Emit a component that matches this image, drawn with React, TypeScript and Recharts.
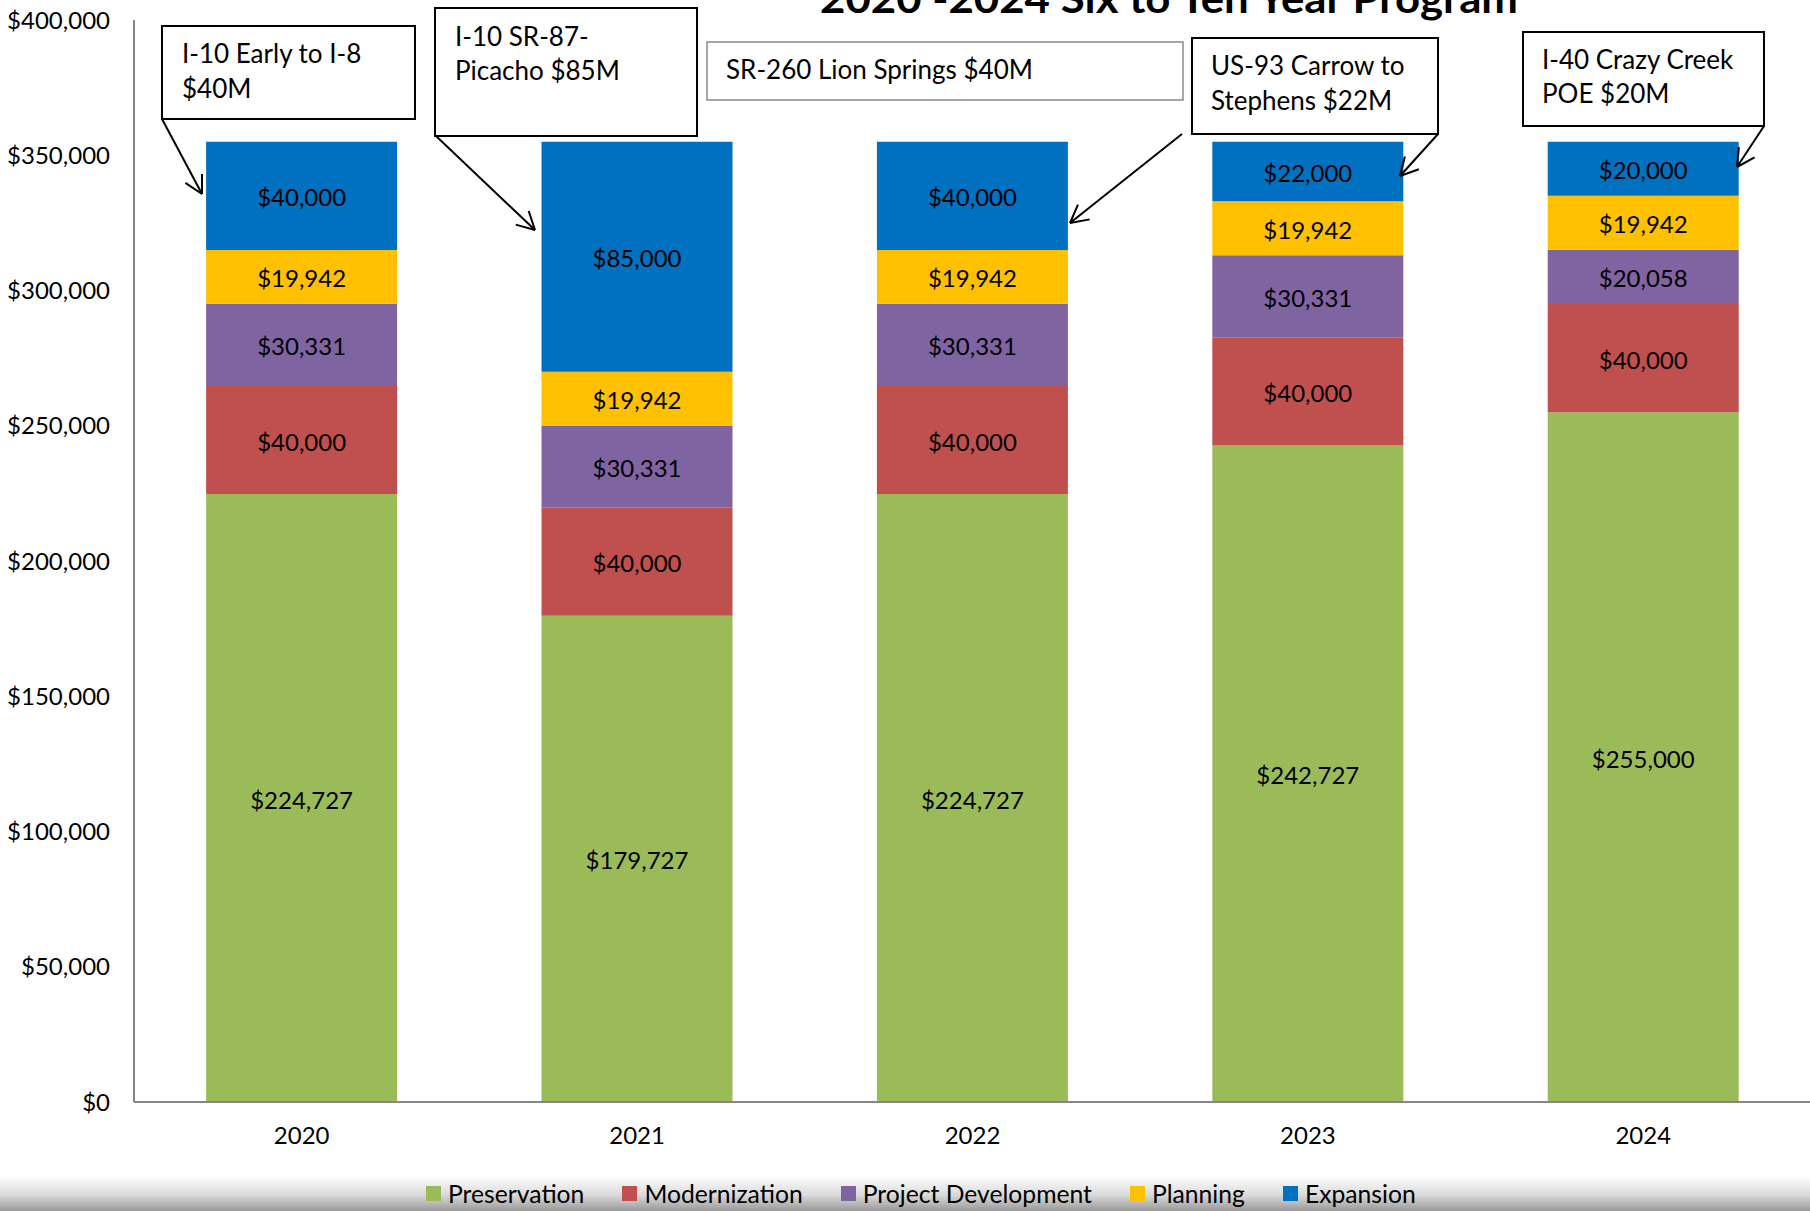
import React from 'react';
import { BarChart, Bar, XAxis, YAxis, Legend, LabelList } from 'recharts';

// Fiscal years on the x axis
const years = ['2020', '2021', '2022', '2023', '2024'];

// Program values ($ thousands) per category, bottom to top of each stack
const preservation = [224727, 179727, 224727, 242727, 255000];
const modernization = [40000, 40000, 40000, 40000, 40000];
const projectDevelopment = [30331, 30331, 30331, 30331, 20058];
const planning = [19942, 19942, 19942, 19942, 19942];
const expansion = [40000, 85000, 40000, 22000, 20000];

const yTicks = [0, 50000, 100000, 150000, 200000, 250000, 300000, 350000, 400000];

const SERIES = [
  { key: 'preservation', name: 'Preservation', color: '#9BBB59' },
  { key: 'modernization', name: 'Modernization', color: '#C0504D' },
  { key: 'projectDevelopment', name: 'Project Development', color: '#8064A2' },
  { key: 'planning', name: 'Planning', color: '#FFC000' },
  { key: 'expansion', name: 'Expansion', color: '#0070C0' },
];

const chartData = years.map((year, i) => ({
  year,
  preservation: preservation[i],
  modernization: modernization[i],
  projectDevelopment: projectDevelopment[i],
  planning: planning[i],
  expansion: expansion[i],
}));

const FONT = 'Lato, "Open Sans", sans-serif';
const AXIS_COLOR = '#868686';

const money = (v: any) => `$${Number(v).toLocaleString('en-US')}`;

/**
 * Callout boxes above the bars (layout only, not chart data)
 */
interface Callout {
  box: [number, number, number, number];
  lines: string[];
  textX: number;
  baselines: number[];
  arrow: [number, number, number, number];
  thin?: boolean;
}

const CALLOUTS: Callout[] = [
  {
    box: [162, 26, 253, 93],
    lines: ['I-10 Early to I-8', '$40M'],
    textX: 182,
    baselines: [63, 98],
    arrow: [162, 119, 202, 194],
  },
  {
    box: [435, 8, 262, 128],
    lines: ['I-10 SR-87-', 'Picacho $85M'],
    textX: 455,
    baselines: [46, 80],
    arrow: [436, 136, 535, 230],
  },
  {
    box: [707, 42, 476, 58],
    lines: ['SR-260 Lion Springs $40M'],
    textX: 726,
    baselines: [79],
    arrow: [1182, 134, 1070, 223],
    thin: true,
  },
  {
    box: [1192, 38, 246, 96],
    lines: ['US-93 Carrow to', 'Stephens $22M'],
    textX: 1211,
    baselines: [75, 110],
    arrow: [1438, 134, 1400, 176],
  },
  {
    box: [1523, 32, 241, 94],
    lines: ['I-40 Crazy Creek', 'POE $20M'],
    textX: 1542,
    baselines: [69, 103],
    arrow: [1764, 126, 1737, 167],
  },
];

const ArrowHead = ({ x1, y1, x2, y2 }: { x1: number; y1: number; x2: number; y2: number }) => {
  const ang = Math.atan2(y2 - y1, x2 - x1);
  const len = 20;
  const spread = (28 * Math.PI) / 180;
  const a = [ang + Math.PI - spread, ang + Math.PI + spread];
  return (
    <g stroke="#000" strokeWidth={2} fill="none">
      <line x1={x1} y1={y1} x2={x2} y2={y2} />
      {a.map((t, i) => (
        <line key={i} x1={x2} y1={y2} x2={x2 + len * Math.cos(t)} y2={y2 + len * Math.sin(t)} />
      ))}
    </g>
  );
};

const renderLegend = () => (
  <div style={{ display: 'flex', alignItems: 'center', gap: 38, fontFamily: FONT, fontSize: 24.7, color: '#000' }}>
    {SERIES.map((s) => (
      <div key={s.key} style={{ display: 'flex', alignItems: 'center', gap: 7 }}>
        <div style={{ width: 15, height: 15, background: s.color }} />
        <span>{s.name}</span>
      </div>
    ))}
  </div>
);

export default function App() {
  return (
    <div style={{ position: 'absolute', left: 0, top: 0, width: 1810, height: 1211, background: '#fff', overflow: 'hidden' }}>
      {/* gray band behind the legend */}
      <div
        style={{
          position: 'absolute',
          left: 0,
          top: 1176,
          width: 1810,
          height: 35,
          background: 'linear-gradient(to bottom, #ffffff 0%, #d9d9d9 55%, #999999 100%)',
        }}
      />
      <div style={{ position: 'absolute', left: 0, top: 0 }}>
        <BarChart
          width={1811}
          height={1211}
          data={chartData}
          margin={{ top: 20, right: 0, left: 0, bottom: 79 }}
          barCategoryGap="21.5%"
        >
          <XAxis
            dataKey="year"
            height={30}
            axisLine={{ stroke: AXIS_COLOR, strokeWidth: 2 }}
            tickLine={false}
            tickSize={0}
            tickMargin={25}
            tick={{ fill: '#000', fontSize: 24, fontFamily: FONT }}
          />
          <YAxis
            width={134}
            domain={[0, 400000]}
            ticks={yTicks}
            interval={0}
            tickFormatter={money}
            axisLine={{ stroke: AXIS_COLOR, strokeWidth: 2 }}
            tickLine={false}
            tickSize={0}
            tickMargin={24}
            tick={{ fill: '#000', fontSize: 24, fontFamily: FONT }}
          />
          <Legend
            layout="horizontal"
            align="center"
            verticalAlign="middle"
            content={renderLegend}
            wrapperStyle={{ top: 1179, left: 426, width: 1200 }}
          />
          {SERIES.map((s) => (
            <Bar key={s.key} dataKey={s.key} name={s.name} stackId="a" fill={s.color} isAnimationActive={false}>
              <LabelList
                dataKey={s.key}
                position="center"
                formatter={money}
                fill="#000"
                dy={2}
                style={{ fontSize: 24, fontFamily: FONT }}
              />
            </Bar>
          ))}
        </BarChart>
      </div>
      {/* title (cut off at the top, as in the original) and callouts */}
      <svg width={1810} height={1211} style={{ position: 'absolute', left: 0, top: 0, pointerEvents: 'none' }}>
        <text
          x={820}
          y={13}
          textLength={698}
          lengthAdjust="spacingAndGlyphs"
          fontFamily={FONT}
          fontWeight="bold"
          fontSize={40}
          fill="#000"
        >
          2020 -2024 Six to Ten Year Program
        </text>
        {CALLOUTS.map((c, i) => (
          <g key={i}>
            <rect
              x={c.box[0]}
              y={c.box[1]}
              width={c.box[2]}
              height={c.box[3]}
              fill="#fff"
              stroke={c.thin ? '#8a8a8a' : '#000'}
              strokeWidth={c.thin ? 1.5 : 2}
            />
            {c.lines.map((ln, j) => (
              <text key={j} x={c.textX} y={c.baselines[j]} fontFamily={FONT} fontSize={26} fill="#000">
                {ln}
              </text>
            ))}
            <ArrowHead x1={c.arrow[0]} y1={c.arrow[1]} x2={c.arrow[2]} y2={c.arrow[3]} />
          </g>
        ))}
      </svg>
    </div>
  );
}
